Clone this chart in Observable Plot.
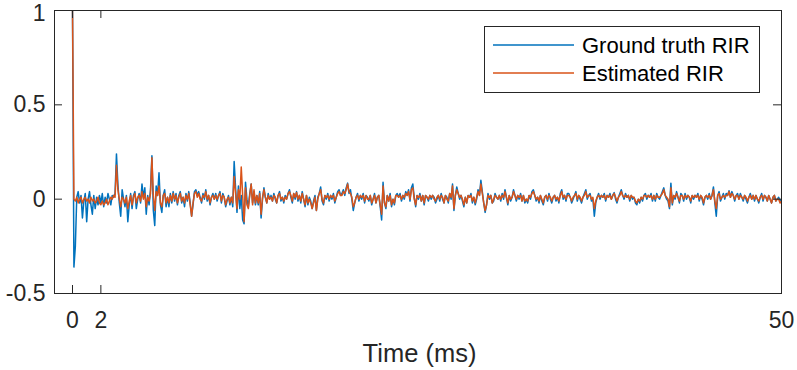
<!DOCTYPE html>
<html>
<head>
<meta charset="utf-8">
<script src="https://cdn.jsdelivr.net/npm/d3@7"></script>
<script src="https://cdn.jsdelivr.net/npm/@observablehq/plot@0.6"></script>
<style>
  html, body { margin: 0; padding: 0; background: #fff; }
  svg { display: block; }
</style>
</head>
<body>
<div id="chart"></div>
<script>
// ---- data ----
const sampleStepMs = 0.1;               // spacing of samples along the time axis (ms)
const xTicks = [0, 2, 50];
const yTicks = [-0.5, 0, 0.5, 1];
const xDomain = [-1.27, 50];
const yDomain = [-0.5, 1];
const xLabel = "Time (ms)";
const seriesNames = ["Ground truth RIR", "Estimated RIR"];
const seriesColors = ["#0072BD", "#D95319"];

const groundTruth = [
  1.0,-.36,-.25,.01,.04,-.02,.02,-.10,-.01,.03,
  -.12,0,.04,-.03,-.08,.02,-.05,.01,-.03,.02,
  -.02,.03,-.04,.01,-.02,.03,0,-.03,.02,.01,
  .03,.24,.08,-.02,-.09,.05,0,-.04,.02,-.12,
  -.03,.03,-.05,.02,.04,-.05,0,.03,-.02,.08,
  .01,.06,-.08,.02,-.03,.05,.23,-.06,-.14,.07,
  .02,.14,-.03,-.07,.02,.05,-.04,.01,-.04,.03,
  -.02,.04,-.01,.03,-.03,.02,.04,-.02,.01,-.04,
  .03,-.01,.04,-.02,-.09,-.03,.04,.05,.02,.04,
  .01,-.02,.03,0,.05,-.01,.02,-.03,.01,.03,
  0,.03,-.01,.02,.04,-.02,.03,.01,-.04,-.01,
  .02,-.03,.01,-.04,.20,.06,-.07,.07,-.05,.02,
  -.11,-.13,.09,0,-.04,.03,.08,-.02,.04,-.03,
  .02,-.03,.04,-.10,0,.06,.01,-.02,.03,0,
  .02,-.01,.03,0,-.02,.02,.04,-.01,.01,-.02,
  .02,0,.03,.05,.01,-.02,.03,0,.04,-.01,
  .02,-.02,.04,0,-.04,.02,-.03,.01,-.01,-.05,
  -.01,.02,-.06,.01,.03,.065,-.01,-.03,.02,0,
  .03,-.01,.02,0,.03,-.02,.01,.04,.05,.02,
  .03,.05,.02,.06,.085,.03,.05,0,-.06,-.02,
  .01,.03,-.01,.02,0,.03,-.02,.02,.01,-.01,
  .02,-.03,0,.03,-.02,.01,.02,-.04,-.11,.09,
  -.02,-.05,.02,-.01,.03,-.04,0,-.03,.02,.03,
  .01,.03,-.01,.02,0,.04,.02,.05,-.01,.06,
  .08,.01,-.04,.02,0,.03,-.01,.02,-.03,.02,
  .01,-.01,.02,0,.02,.01,-.02,0,.02,-.01,
  .03,0,-.02,.02,.01,-.02,.03,0,.08,-.06,
  .02,.065,.03,0,.02,-.01,-.04,.01,-.02,.02,
  .01,.03,-.02,.01,-.03,0,.05,.02,.10,.04,
  -.02,-.07,-.03,.03,0,.02,-.02,-.01,.03,.01,
  0,.02,-.01,.03,0,.05,.01,-.03,.02,-.01,
  .01,.05,.02,-.01,.02,0,.03,-.01,.02,-.02,
  0,-.02,.02,0,.04,.05,.02,-.01,.01,-.02,
  .02,-.01,-.03,.01,.02,-.01,.03,0,-.02,.01,
  .02,-.01,.01,-.02,.03,.05,0,.02,-.01,.03,
  .03,.01,-.02,0,.02,.04,-.01,.02,0,-.02,
  .01,.03,.05,0,.02,.03,-.01,0,-.09,-.02,
  .01,.03,0,.02,.01,.03,-.01,.02,.01,.03,
  0,.02,.035,0,-.02,.01,.03,.05,.02,0,
  .03,.01,.02,-.01,.02,0,.01,-.02,-.03,0,
  -.02,.01,-.01,.02,.03,0,.02,.01,.03,-.01,
  .02,-.01,.03,.01,0,.02,.04,.06,.02,0,
  -.01,-.05,.085,-.03,.02,0,.04,.01,-.02,.03,
  .02,-.01,.03,0,.02,.01,-.02,.02,0,.02,
  .01,.03,-.01,.02,0,-.03,.01,.02,0,.03,
  0,.02,.065,-.02,-.09,.02,.04,-.01,.01,.03,
  0,.03,.02,.045,.01,.04,.02,-.01,.02,.03,
  0,.03,.01,-.01,.02,0,-.02,.01,.03,0,
  .02,-.01,.02,0,-.02,.01,.03,-.01,.02,.01,
  -.01,.02,0,-.02,.01,.02,-.01,0,.01,-.01,
  0
];

const estimated = [
  1.0,0,-.01,.01,-.02,0,.01,-.02,0,.01,
  -.01,0,-.02,.01,-.01,0,-.02,-.01,.01,-.02,
  -.03,-.01,-.03,-.02,0,-.03,-.01,.01,0,.02,
  .01,.18,.05,0,-.04,.01,0,-.02,.01,-.05,
  -.01,.02,-.03,.01,.03,-.02,.01,.02,-.01,.04,
  0,.03,-.04,.01,-.01,.03,.22,.02,-.06,.04,
  .02,.07,-.02,-.04,.02,.03,-.02,.01,-.02,.02,
  -.01,.03,0,.02,-.02,.01,.03,-.01,.01,-.02,
  .02,0,.03,-.03,-.09,-.02,.03,.04,.01,.03,
  0,-.01,.02,.01,.04,0,.02,-.02,.01,.02,
  0,.02,0,.02,.03,-.01,.02,.01,-.03,0,
  .01,-.02,.01,-.02,.12,.03,-.05,.05,0,.17,
  .02,-.12,.06,-.03,-.05,.02,.08,-.03,.05,-.02,
  .02,-.02,.03,-.08,.01,.05,.01,-.02,.02,0,
  .01,-.01,.02,.01,-.02,.02,.03,0,.01,-.01,
  .01,0,.03,.04,.02,-.01,.03,.01,.035,0,
  .02,-.01,.03,0,-.03,.02,-.02,0,-.02,-.05,
  -.02,.01,-.06,0,.03,.05,0,-.02,.02,.01,
  .02,0,.02,.01,.02,-.01,.01,.03,.04,.02,
  .02,.04,.03,.05,.08,.04,.03,.01,-.04,-.02,
  .01,.02,0,.02,.01,.02,-.01,.02,0,0,
  .02,-.02,0,.02,-.02,.01,.02,-.03,-.08,.07,
  -.02,-.04,.02,-.01,.02,-.03,0,-.02,.02,.02,
  .01,.02,0,.02,.01,.03,.02,.04,0,.05,
  .06,0,-.03,.02,.01,.02,-.01,.02,-.02,.02,
  .01,0,.02,.01,.02,0,-.01,.01,.02,0,
  .02,.01,-.02,.02,0,-.01,.03,.01,.07,-.05,
  .02,.05,.03,.01,.02,0,-.03,.01,-.02,.02,
  .01,.02,-.01,.01,-.02,.01,.04,.02,.08,.03,
  -.02,-.06,-.03,.02,.01,.02,-.02,0,.02,.01,
  0,.02,0,.02,.01,.04,.01,-.02,.02,0,
  .01,.04,.02,0,.02,.01,.02,-.01,.02,-.01,
  0,-.01,.02,.01,.03,.04,.02,0,.01,-.01,
  .02,0,-.02,.01,.02,0,.02,.01,-.01,.01,
  .02,0,.01,-.01,.02,.04,.01,.02,0,.02,
  .02,.01,-.01,.01,.02,.03,0,.02,.01,-.01,
  .01,.02,.04,.01,.02,.02,0,.01,-.05,-.01,
  .01,.02,.01,.02,.01,.02,0,.02,.01,.02,
  0,.02,.03,.01,-.01,.01,.02,.04,.02,.01,
  .02,.01,.02,0,.02,.01,.01,-.01,-.02,0,
  -.01,.01,0,.02,.02,.01,.02,.01,.02,0,
  .02,0,.02,.01,.01,.02,.03,.05,.02,.01,
  0,-.04,.06,-.02,.02,.01,.03,.01,-.01,.02,
  .02,0,.02,.01,.02,.01,-.01,.02,.01,.02,
  .01,.02,0,.02,.01,-.02,.01,.02,.01,.02,
  0,.02,.05,-.01,-.05,.02,.03,0,.01,.02,
  .01,.02,.02,.04,.01,.03,.02,0,.02,.02,
  0,.02,.01,0,.02,.01,-.01,.01,.02,0,
  .02,0,.02,0,-.01,.01,.02,0,.02,.01,
  -.01,.02,0,-.02,.01,.02,-.01,0,0,-.02,
  -.01
];

// ---- layout / style ----
const W = 797, H = 370;
const mL = 54, mR = 16, mT = 10, mB = 77;
const axisColor = "#262626";
const font = "'Liberation Sans', Arial, Helvetica, sans-serif";
const tickLenPx = 8;
const tickFont = 23;

const toRows = (arr) => arr.map((v, i) => ({t: i * sampleStepMs, v}));
const gtRows = toRows(groundTruth);
const estRows = toRows(estimated);

const plotW = W - mL - mR, plotH = H - mT - mB;
const tkY = tickLenPx * (yDomain[1] - yDomain[0]) / plotH;
const tkX = tickLenPx * (xDomain[1] - xDomain[0]) / plotW;
const topTick = yTicks.filter(d => d === yDomain[1]);
const otherYTicks = yTicks.filter(d => d !== yDomain[1]);

const chart = Plot.plot({
  width: W, height: H,
  marginLeft: mL, marginRight: mR, marginTop: mT, marginBottom: mB,
  style: {fontFamily: font, color: axisColor, background: "#fff"},
  x: {domain: xDomain},
  y: {domain: yDomain},
  marks: [
    Plot.axisX(xTicks, {anchor: "bottom", tickSize: 0, tickPadding: 18, tickFormat: d => String(d), label: null, fontSize: tickFont, fill: axisColor}),
    Plot.axisY(otherYTicks, {anchor: "left", tickSize: 0, tickPadding: 9, tickFormat: d => String(d), label: null, fontSize: tickFont, fill: axisColor}),
    Plot.axisY(topTick, {anchor: "left", tickSize: 0, tickPadding: 9, dy: 3, tickFormat: d => String(d), label: null, fontSize: tickFont, fill: axisColor}),
    Plot.line(gtRows, {x: "t", y: "v", stroke: seriesColors[0], strokeWidth: 1.5, clip: true}),
    Plot.line(estRows, {x: "t", y: "v", stroke: seriesColors[1], strokeWidth: 1.5, clip: true}),
    Plot.ruleX(xTicks, {x: d => d, y1: yDomain[0], y2: yDomain[0] + tkY, stroke: axisColor}),
    Plot.ruleX(xTicks, {x: d => d, y1: yDomain[1], y2: yDomain[1] - tkY, stroke: axisColor}),
    Plot.ruleY(yTicks, {y: d => d, x1: xDomain[0], x2: xDomain[0] + tkX, stroke: axisColor}),
    Plot.ruleY(yTicks, {y: d => d, x1: xDomain[1], x2: xDomain[1] - tkX, stroke: axisColor}),
    Plot.frame({stroke: axisColor, strokeWidth: 1})
  ]
});

document.getElementById("chart").appendChild(chart);

// x-axis title
const svg = d3.select(chart);
svg.append("text")
  .attr("x", mL + plotW / 2 + 2)
  .attr("y", 362)
  .attr("text-anchor", "middle")
  .attr("font-family", font)
  .attr("font-size", 25.5)
  .attr("fill", axisColor)
  .text(xLabel);

// legend
const lg = svg.append("g").attr("text-anchor", "start");
lg.append("rect")
  .attr("x", 484.5).attr("y", 26.5)
  .attr("width", 275).attr("height", 66)
  .attr("fill", "#fff").attr("stroke", axisColor).attr("stroke-width", 1);
seriesNames.forEach((name, i) => {
  const cy = 45 + i * 28;
  lg.append("line")
    .attr("x1", 493).attr("x2", 574).attr("y1", cy).attr("y2", cy)
    .attr("stroke", seriesColors[i]).attr("stroke-width", 1.5);
  lg.append("text")
    .attr("x", 582).attr("y", cy).attr("dy", "0.36em")
    .attr("text-anchor", "start")
    .attr("font-family", font).attr("font-size", 22)
    .attr("fill", "#000")
    .text(name);
});
</script>
</body>
</html>
